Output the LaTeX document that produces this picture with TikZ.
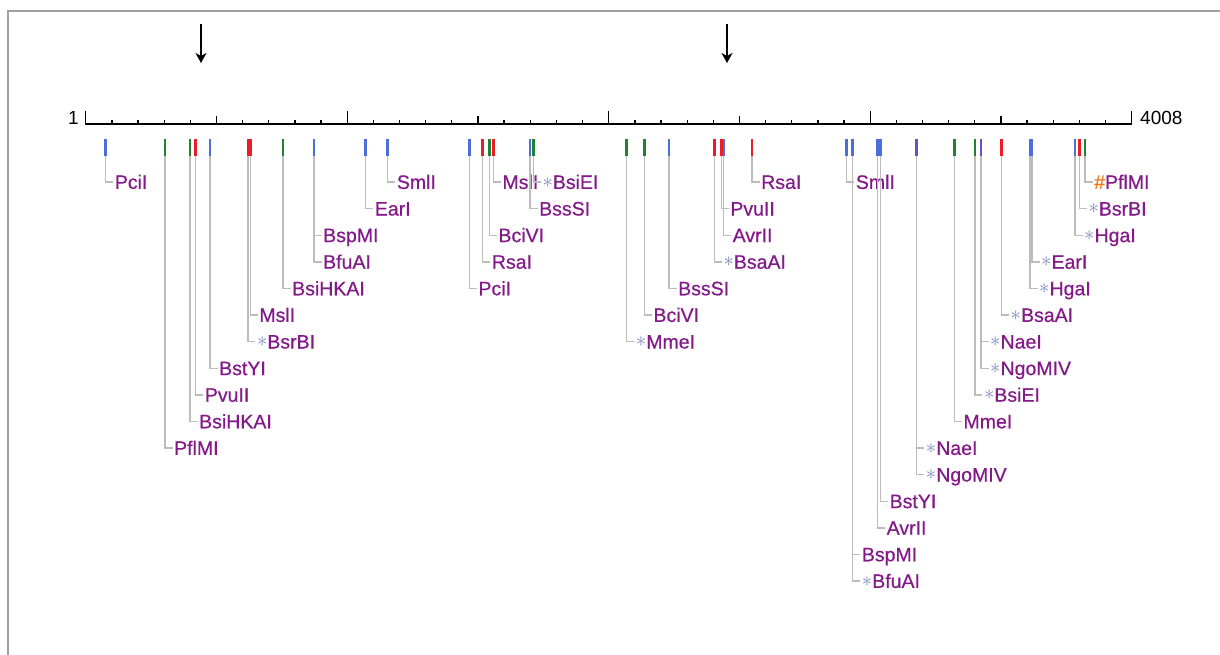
\documentclass[tikz,border=0pt]{standalone}
\usepackage{fontspec}
\setmainfont{Liberation Sans}
\newfontfamily\lblfont[FakeBold=0.6]{Liberation Sans}
\usetikzlibrary{arrows.meta}
\definecolor{lblc}{RGB}{132,26,138}
\definecolor{starc}{RGB}{125,135,195}
\definecolor{hashc}{RGB}{240,120,30}
\definecolor{mblue}{RGB}{75,110,220}
\definecolor{mgreen}{RGB}{30,130,50}
\definecolor{mred}{RGB}{235,30,40}
\definecolor{mviolet}{RGB}{105,80,200}
\definecolor{connc}{RGB}{188,188,188}
\definecolor{bordc}{RGB}{160,160,160}
\newcommand\sstar{{\color{starc}\raisebox{1.8pt}{$\ast$}}}
\newcommand\shash{{\color{hashc}\#}}
\newcommand\rsite[5]{%
  \coordinate (t#1) at (#2,139);
  \coordinate (b#1) at (#2,156);
  \node[lbl] (l#1) at (#2+7.5,{182+26.6*#3}) {#5};
  \draw[conn] (b#1) |- (l#1.west);
  \draw[mk,#4] (t#1) -- (b#1);
}
\begin{document}
\begin{tikzpicture}[x=1pt,y=-1pt,
  lbl/.style={anchor=west,inner xsep=1.5pt,inner ysep=0pt,text height=13.8pt,text depth=0pt,
    text=lblc,font=\lblfont\fontsize{19.5}{22}\selectfont},
  conn/.style={draw=connc,line width=1.4pt},
  mk/.style={line width=2.6pt},
  axisline/.style={line width=1.5pt,black},
  tick/.style={line width=1.3pt,black},
  num/.style={inner sep=0pt,font=\fontsize{19}{22}\selectfont},
  arr/.style={line width=1.6pt,-{Stealth[length=10pt,width=11pt,inset=3pt]}},
  bord/.style={draw=bordc,line width=2pt}]
\useasboundingbox (0,0) rectangle (1220,655);
\fill[white] (0,0) rectangle (1220,655);
\draw[bord] (8,655) -- (8,11) -- (1220,11);
% arrows
\coordinate (ar1s) at (201,24);
\coordinate (ar1e) at (201,63);
\coordinate (ar2s) at (727,24);
\coordinate (ar2e) at (727,63);
\draw[arr] (ar1s) -- (ar1e);
\draw[arr] (ar2s) -- (ar2e);
% axis
\coordinate (ax0) at (85.7,124);
\coordinate (ax1) at (1131.7,124);
\draw[axisline] (ax0) -- (ax1);
\foreach \k in {1,...,39} {\draw[tick] (85.7+26.15*\k,124) -- (85.7+26.15*\k,120.5);}
\foreach \k in {5,15,25,35} {\draw[tick] (85.7+26.15*\k,124) -- (85.7+26.15*\k,116);}
\foreach \k in {0,10,20,30,40} {\draw[tick] (85.7+26.15*\k,124.7) -- (85.7+26.15*\k,111.5);}
\node[num,anchor=base east] (one) at (79,125) {1};
\node[num,anchor=base west] (end) at (1140,125) {4008};
% sites
\rsite{a1}{105.7}{0}{mblue}{PciI}
\rsite{a2}{165}{10}{mgreen}{PflMI}
\rsite{a3}{190}{9}{mgreen}{BsiHKAI}
\rsite{a4}{195.7}{8}{mred}{PvuII}
\rsite{a5}{210}{7}{mblue}{BstYI}
\rsite{a6}{250.2}{5}{mred}{MslI}
\rsite{a7}{247.8}{6}{mred}{\sstar BsrBI}
\rsite{a8}{283}{4}{mgreen}{BsiHKAI}
\rsite{a9}{314}{2}{mblue}{BspMI}
\rsite{a10}{314}{3}{mblue}{BfuAI}
\rsite{b1}{365.7}{1}{mblue}{EarI}
\rsite{b2}{387.7}{0}{mblue}{SmlI}
\rsite{b3}{469.3}{4}{mblue}{PciI}
\rsite{b4}{482.7}{3}{mred}{RsaI}
\rsite{b5}{489.3}{2}{mgreen}{BciVI}
\rsite{b6}{493.3}{0}{mred}{MslI}
\rsite{b8}{533.3}{0}{mgreen}{\sstar BsiEI}
\rsite{b7}{530}{1}{mblue}{BssSI}
\rsite{c1}{626.7}{6}{mgreen}{\sstar MmeI}
\rsite{c2}{644.3}{5}{mgreen}{BciVI}
\rsite{c3}{669}{4}{mblue}{BssSI}
\rsite{c4}{714.3}{3}{mred}{\sstar BsaAI}
\rsite{c6}{723.5}{2}{mblue}{AvrII}
\rsite{c5}{721.2}{1}{mred}{PvuII}
\rsite{c7}{752}{0}{mred}{RsaI}
\rsite{c8}{846.7}{0}{mblue}{SmlI}
\rsite{d1}{852.7}{14}{mblue}{BspMI}
\rsite{d2}{852.7}{15}{mblue}{\sstar BfuAI}
\rsite{d3}{877.5}{13}{mblue}{AvrII}
\rsite{d4}{880.5}{12}{mblue}{BstYI}
\rsite{d5}{916.7}{10}{mviolet}{\sstar NaeI}
\rsite{d6}{916.7}{11}{mviolet}{\sstar NgoMIV}
\rsite{d7}{954.3}{9}{mgreen}{MmeI}
\rsite{d8}{974.8}{8}{mgreen}{\sstar BsiEI}
\rsite{d9}{981}{6}{mviolet}{\sstar NaeI}
\rsite{d10}{981}{7}{mviolet}{\sstar NgoMIV}
\rsite{d11}{1001.5}{5}{mred}{\sstar BsaAI}
\rsite{d12}{1030}{4}{mblue}{\sstar HgaI}
\rsite{d13}{1032}{3}{mblue}{\sstar EarI}
\rsite{d14}{1075}{2}{mblue}{\sstar HgaI}
\rsite{d15}{1079.3}{1}{mred}{\sstar BsrBI}
\rsite{d16}{1085}{0}{mgreen}{\shash PflMI}
\end{tikzpicture}
\end{document}
